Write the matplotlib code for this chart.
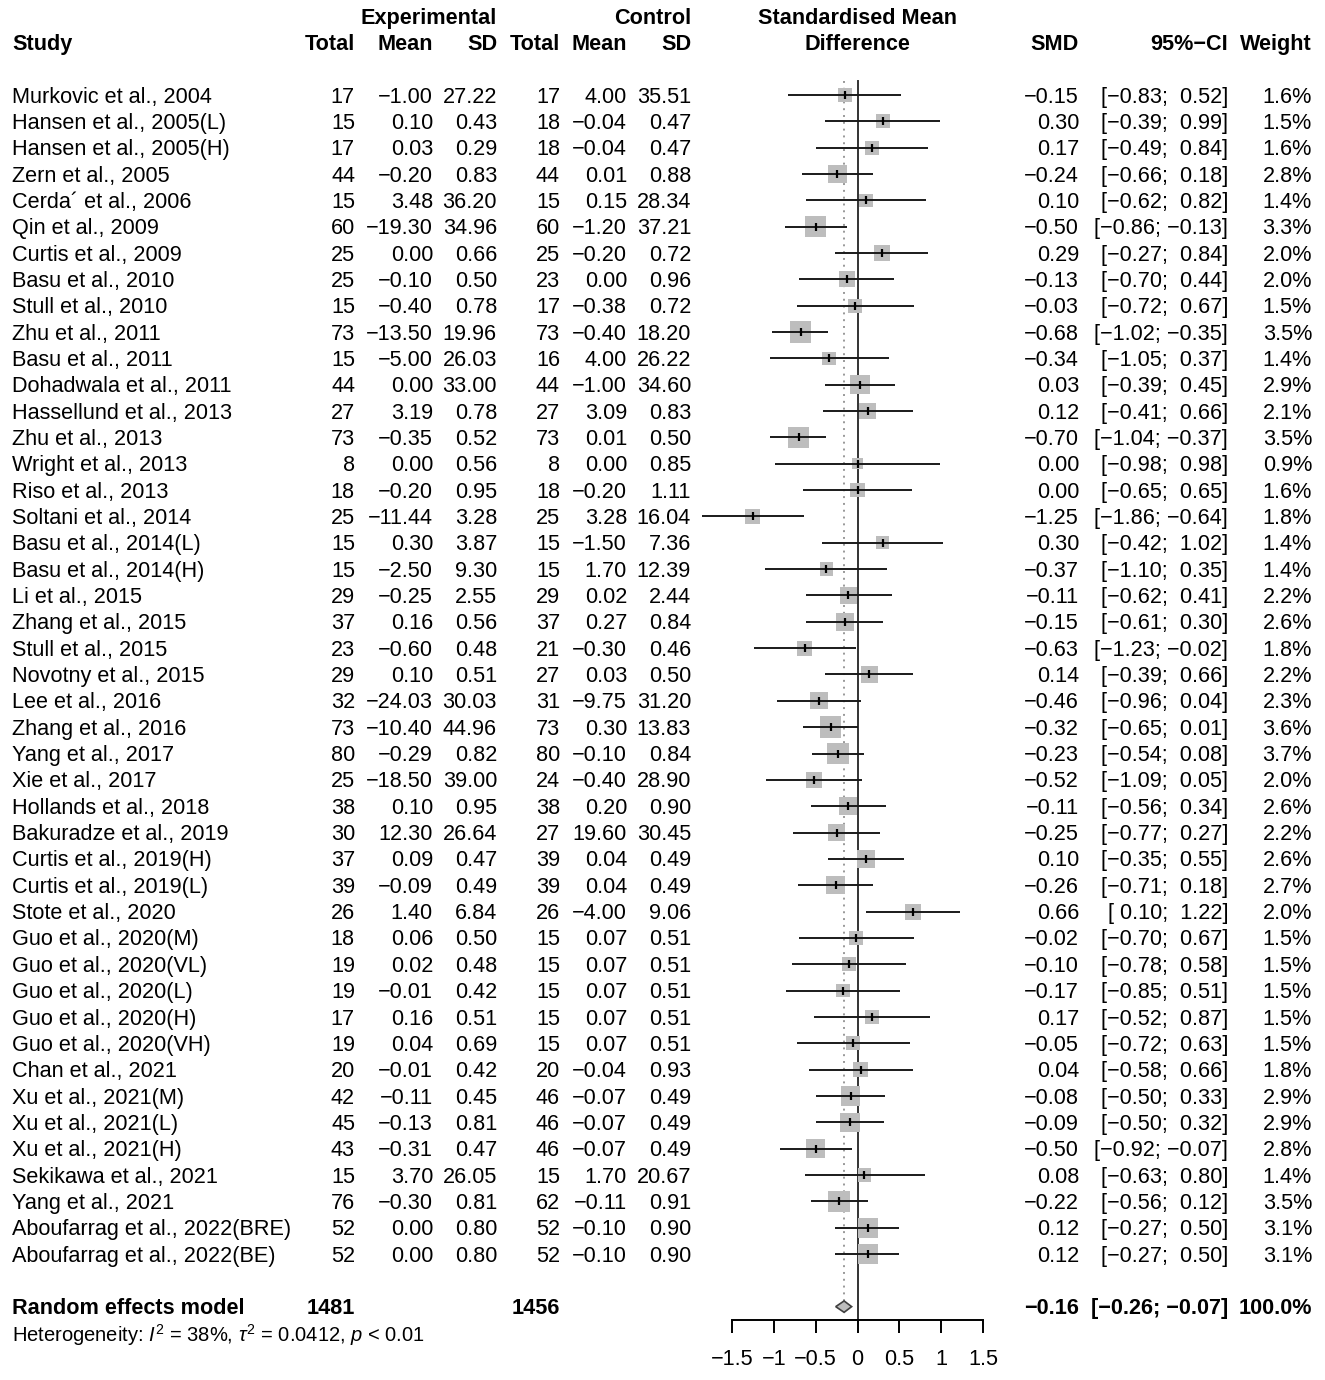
import numpy as np
import matplotlib
matplotlib.use("Agg")
import matplotlib.pyplot as plt
from matplotlib.patches import Polygon

plt.rcParams['font.family'] = ['Liberation Sans', 'DejaVu Sans']
plt.rcParams['mathtext.fontset'] = 'custom'
plt.rcParams['mathtext.rm'] = 'Liberation Sans'
plt.rcParams['mathtext.it'] = 'Liberation Sans:italic'
plt.rcParams['mathtext.bf'] = 'Liberation Sans:bold'

studies = ["Murkovic et al., 2004", "Hansen et al., 2005(L)", "Hansen et al., 2005(H)",
           "Zern et al., 2005", "Cerda\u00b4 et al., 2006", "Qin et al., 2009",
           "Curtis et al., 2009", "Basu et al., 2010", "Stull et al., 2010",
           "Zhu et al., 2011", "Basu et al., 2011", "Dohadwala et al., 2011",
           "Hassellund et al., 2013", "Zhu et al., 2013", "Wright et al., 2013",
           "Riso et al., 2013", "Soltani et al., 2014", "Basu et al., 2014(L)",
           "Basu et al., 2014(H)", "Li et al., 2015", "Zhang et al., 2015",
           "Stull et al., 2015", "Novotny et al., 2015", "Lee et al., 2016",
           "Zhang et al., 2016", "Yang et al., 2017", "Xie et al., 2017",
           "Hollands et al., 2018", "Bakuradze et al., 2019", "Curtis et al., 2019(H)",
           "Curtis et al., 2019(L)", "Stote et al., 2020", "Guo et al., 2020(M)",
           "Guo et al., 2020(VL)", "Guo et al., 2020(L)", "Guo et al., 2020(H)",
           "Guo et al., 2020(VH)", "Chan et al., 2021", "Xu et al., 2021(M)",
           "Xu et al., 2021(L)", "Xu et al., 2021(H)", "Sekikawa et al., 2021",
           "Yang et al., 2021", "Aboufarrag et al., 2022(BRE)", "Aboufarrag et al., 2022(BE)"]

exp_n = [17, 15, 17, 44, 15, 60, 25, 25, 15, 73, 15, 44, 27, 73, 8, 18, 25, 15, 15, 29,
         37, 23, 29, 32, 73, 80, 25, 38, 30, 37, 39, 26, 18, 19, 19, 17, 19, 20, 42, 45,
         43, 15, 76, 52, 52]
exp_mean = [-1.00, 0.10, 0.03, -0.20, 3.48, -19.30, 0.00, -0.10, -0.40, -13.50, -5.00,
            0.00, 3.19, -0.35, 0.00, -0.20, -11.44, 0.30, -2.50, -0.25, 0.16, -0.60,
            0.10, -24.03, -10.40, -0.29, -18.50, 0.10, 12.30, 0.09, -0.09, 1.40, 0.06,
            0.02, -0.01, 0.16, 0.04, -0.01, -0.11, -0.13, -0.31, 3.70, -0.30, 0.00, 0.00]
exp_sd = [27.22, 0.43, 0.29, 0.83, 36.20, 34.96, 0.66, 0.50, 0.78, 19.96, 26.03, 33.00,
          0.78, 0.52, 0.56, 0.95, 3.28, 3.87, 9.30, 2.55, 0.56, 0.48, 0.51, 30.03, 44.96,
          0.82, 39.00, 0.95, 26.64, 0.47, 0.49, 6.84, 0.50, 0.48, 0.42, 0.51, 0.69, 0.42,
          0.45, 0.81, 0.47, 26.05, 0.81, 0.80, 0.80]
ctl_n = [17, 18, 18, 44, 15, 60, 25, 23, 17, 73, 16, 44, 27, 73, 8, 18, 25, 15, 15, 29,
         37, 21, 27, 31, 73, 80, 24, 38, 27, 39, 39, 26, 15, 15, 15, 15, 15, 20, 46, 46,
         46, 15, 62, 52, 52]
ctl_mean = [4.00, -0.04, -0.04, 0.01, 0.15, -1.20, -0.20, 0.00, -0.38, -0.40, 4.00, -1.00,
            3.09, 0.01, 0.00, -0.20, 3.28, -1.50, 1.70, 0.02, 0.27, -0.30, 0.03, -9.75,
            0.30, -0.10, -0.40, 0.20, 19.60, 0.04, 0.04, -4.00, 0.07, 0.07, 0.07, 0.07,
            0.07, -0.04, -0.07, -0.07, -0.07, 1.70, -0.11, -0.10, -0.10]
ctl_sd = [35.51, 0.47, 0.47, 0.88, 28.34, 37.21, 0.72, 0.96, 0.72, 18.20, 26.22, 34.60,
          0.83, 0.50, 0.85, 1.11, 16.04, 7.36, 12.39, 2.44, 0.84, 0.46, 0.50, 31.20, 13.83,
          0.84, 28.90, 0.90, 30.45, 0.49, 0.49, 9.06, 0.51, 0.51, 0.51, 0.51, 0.51, 0.93,
          0.49, 0.49, 0.49, 20.67, 0.91, 0.90, 0.90]
smd = [-0.15, 0.30, 0.17, -0.24, 0.10, -0.50, 0.29, -0.13, -0.03, -0.68, -0.34, 0.03,
       0.12, -0.70, 0.00, 0.00, -1.25, 0.30, -0.37, -0.11, -0.15, -0.63, 0.14, -0.46,
       -0.32, -0.23, -0.52, -0.11, -0.25, 0.10, -0.26, 0.66, -0.02, -0.10, -0.17, 0.17,
       -0.05, 0.04, -0.08, -0.09, -0.50, 0.08, -0.22, 0.12, 0.12]
ci_lo = [-0.83, -0.39, -0.49, -0.66, -0.62, -0.86, -0.27, -0.70, -0.72, -1.02, -1.05,
         -0.39, -0.41, -1.04, -0.98, -0.65, -1.86, -0.42, -1.10, -0.62, -0.61, -1.23,
         -0.39, -0.96, -0.65, -0.54, -1.09, -0.56, -0.77, -0.35, -0.71, 0.10, -0.70,
         -0.78, -0.85, -0.52, -0.72, -0.58, -0.50, -0.50, -0.92, -0.63, -0.56, -0.27, -0.27]
ci_hi = [0.52, 0.99, 0.84, 0.18, 0.82, -0.13, 0.84, 0.44, 0.67, -0.35, 0.37, 0.45, 0.66,
         -0.37, 0.98, 0.65, -0.64, 1.02, 0.35, 0.41, 0.30, -0.02, 0.66, 0.04, 0.01, 0.08,
         0.05, 0.34, 0.27, 0.55, 0.18, 1.22, 0.67, 0.58, 0.51, 0.87, 0.63, 0.66, 0.33,
         0.32, -0.07, 0.80, 0.12, 0.50, 0.50]
weight = [1.6, 1.5, 1.6, 2.8, 1.4, 3.3, 2.0, 2.0, 1.5, 3.5, 1.4, 2.9, 2.1, 3.5, 0.9, 1.6,
          1.8, 1.4, 1.4, 2.2, 2.6, 1.8, 2.2, 2.3, 3.6, 3.7, 2.0, 2.6, 2.2, 2.6, 2.7, 2.0,
          1.5, 1.5, 1.5, 1.5, 1.5, 1.8, 2.9, 2.9, 2.8, 1.4, 3.5, 3.1, 3.1]

pooled_n_exp = 1481
pooled_n_ctl = 1456
pooled_smd = -0.16
pooled_lo = -0.26
pooled_hi = -0.07
heterogeneity = r'Heterogeneity: $I^2$ = 38%, $\tau^2$ = 0.0412, $p$ < 0.01'

axis_ticks = [-1.5, -1, -0.5, 0, 0.5, 1, 1.5]
axis_labels = ['\u22121.5', '\u22121', '\u22120.5', '0', '0.5', '1', '1.5']

# layout (pixels)
W, H = 1325, 1380
ROW0 = 95.0
ROWH = 26.34
ZERO_PX = 857.5
UNIT_PX = 83.8
FS = 15.6
DY = 0.08  # small downward nudge so text sits on the row like the original


def m(s):
    return s.replace('-', '\u2212')


def f2(v):
    return m('%.2f' % v)


def fci(lo, hi):
    return m('[%5.2f; %5.2f]' % (lo, hi))


n = len(studies)
y = np.arange(n)
ytop = -ROW0 / ROWH
ybot = (H - ROW0) / ROWH

fig = plt.figure(figsize=(W / 100, H / 100), dpi=100)
tab = fig.add_axes([0, 0, 1, 1])
tab.set_xlim(0, W)
tab.set_ylim(ybot, ytop)
tab.axis('off')

# header
hdr = dict(fontsize=FS, fontweight='bold', va='center')
tab.text(497, -3 + DY, 'Experimental', ha='right', **hdr)
tab.text(691, -3 + DY, 'Control', ha='right', **hdr)
tab.text(ZERO_PX, -3 + DY, 'Standardised Mean', ha='center', **hdr)
tab.text(ZERO_PX, -2 + DY, 'Difference', ha='center', **hdr)
tab.text(12, -2 + DY, 'Study', ha='left', **hdr)
for xr, lab in [(355, 'Total'), (433, 'Mean'), (497, 'SD'), (560, 'Total'),
                (627, 'Mean'), (691, 'SD'), (1079, 'SMD'), (1228, '95%\u2212CI'),
                (1312, 'Weight')]:
    tab.text(xr, -2 + DY, lab, ha='right', **hdr)

# rows
kw = dict(fontsize=FS, va='center')
for i in range(n):
    ty = i + DY
    tab.text(12, ty, studies[i], ha='left', **kw)
    tab.text(355, ty, str(exp_n[i]), ha='right', **kw)
    tab.text(433, ty, f2(exp_mean[i]), ha='right', **kw)
    tab.text(497, ty, f2(exp_sd[i]), ha='right', **kw)
    tab.text(560, ty, str(ctl_n[i]), ha='right', **kw)
    tab.text(627, ty, f2(ctl_mean[i]), ha='right', **kw)
    tab.text(691, ty, f2(ctl_sd[i]), ha='right', **kw)
    tab.text(1079, ty, f2(smd[i]), ha='right', **kw)
    tab.text(1228, ty, fci(ci_lo[i], ci_hi[i]), ha='right', **kw)
    tab.text(1312, ty, '%.1f%%' % weight[i], ha='right', **kw)

yp = n + 1
bkw = dict(fontsize=FS, fontweight='bold', va='center')
tab.text(12, yp + DY, 'Random effects model', ha='left', **bkw)
tab.text(355, yp + DY, str(pooled_n_exp), ha='right', **bkw)
tab.text(560, yp + DY, str(pooled_n_ctl), ha='right', **bkw)
tab.text(1079, yp + DY, f2(pooled_smd), ha='right', **bkw)
tab.text(1228, yp + DY, fci(pooled_lo, pooled_hi), ha='right', **bkw)
tab.text(1312, yp + DY, '100.0%', ha='right', **bkw)
tab.text(12, yp + 1 + DY, heterogeneity, ha='left', va='center', fontsize=14.5)

# forest panel
half = 2.0
left_px = ZERO_PX - half * UNIT_PX
ax = fig.add_axes([left_px / W, 0, 2 * half * UNIT_PX / W, 1])
ax.set_xlim(-half, half)
ax.set_ylim(ybot, ytop)
ax.patch.set_visible(False)
for s in ['top', 'left', 'right']:
    ax.spines[s].set_visible(False)
axis_row = (1319.5 - ROW0) / ROWH
ax.spines['bottom'].set_position(('data', axis_row))
ax.spines['bottom'].set_bounds(axis_ticks[0], axis_ticks[-1])
ax.spines['bottom'].set_linewidth(1.4)
ax.set_xticks(axis_ticks)
ax.set_xticklabels(axis_labels, fontsize=FS)
ax.tick_params(axis='x', direction='out', length=9.5, width=1.4, pad=12)
ax.set_yticks([])

# reference lines
ax.plot([0, 0], [-0.55, axis_row], color='#333333', lw=1.4, zorder=1)
ax.plot([pooled_smd, pooled_smd], [-0.55, yp - 0.22], color='#999999', lw=1.4,
        ls=(0, (1, 2.5)), zorder=1)

# study boxes, CIs and centre marks
side_pt = 11.3 * np.sqrt(weight) * 0.72
ax.scatter(smd, y, s=side_pt ** 2, marker='s', color='#bdbdbd', linewidths=0, zorder=2)
ax.hlines(y, ci_lo, ci_hi, color='#1a1a1a', lw=1.4, zorder=3)
ax.plot(smd, y, ls='none', marker='|', markersize=5.5, mew=1.6, color='black', zorder=4)

# pooled diamond
dh = 5.7 / ROWH
diamond = Polygon([[pooled_lo, yp], [pooled_smd, yp - dh], [pooled_hi, yp],
                   [pooled_smd, yp + dh]], closed=True, facecolor='#bdbdbd',
                  edgecolor='#404040', lw=1.2, zorder=3)
ax.add_patch(diamond)

fig.savefig('out.png', dpi=100)
